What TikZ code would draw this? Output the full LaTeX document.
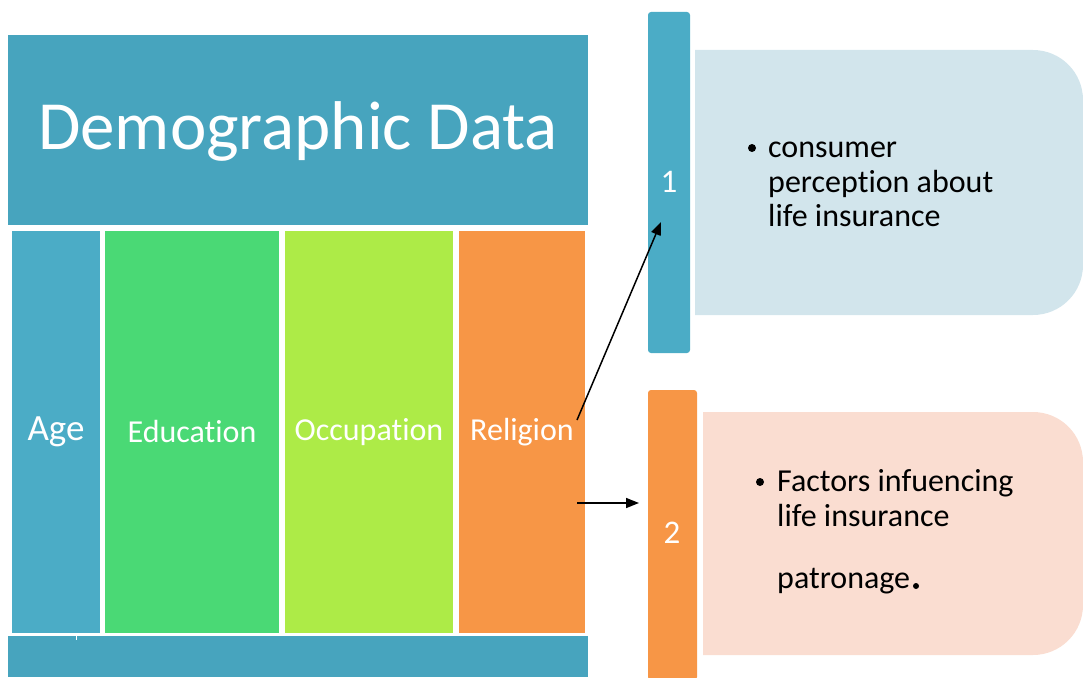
\documentclass[tikz,border=0pt]{standalone}
\usepackage{fontspec}
\setmainfont{Carlito}[RawFeature={-liga}]
\usetikzlibrary{arrows.meta}
\definecolor{dgHead}{RGB}{71,164,190}
\definecolor{dgAge}{RGB}{75,172,198}
\definecolor{dgEdu}{RGB}{74,217,117}
\definecolor{dgOcc}{RGB}{173,235,71}
\definecolor{dgRel}{RGB}{247,150,70}
\definecolor{dgLightBlue}{RGB}{210,229,236}
\definecolor{dgLightPeach}{RGB}{250,221,209}
\tikzset{
  panel/.style={inner sep=0pt, outer sep=0pt, anchor=north west},
  collabel/.style={text=white, font=\fontsize{32}{36}\selectfont},
  numlabel/.style={text=white, font=\fontsize{33}{36}\selectfont},
  bodyline/.style={anchor=base west, inner sep=0pt, font=\fontsize{32}{35}\selectfont},
  bulletdot/.style={circle, fill=black, inner sep=0pt, minimum size=8pt},
  link/.style={line width=1.5pt, -{Triangle[length=13pt,width=10pt]}},
}
\begin{document}
\begin{tikzpicture}[x=1pt,y=-1pt]
\useasboundingbox (0,0) rectangle (1083,677);

% header and footer bands
\node[panel, fill=dgHead, minimum width=580pt, minimum height=190pt] (head) at (8,35) {};
\node[text=white, font=\fontsize{69}{80}\selectfont] (title) at (298,131) {Demographic Data};
\node[panel, fill=dgHead, minimum width=580pt, minimum height=41pt] (foot) at (8,636) {};
\draw[white, line width=0.6pt] (76,636) -- (76,640);

% category columns
\node[panel, fill=dgAge, minimum width=88pt,  minimum height=402pt] (agecol) at (12,231) {};
\node[panel, fill=dgEdu, minimum width=174pt, minimum height=402pt] (educol) at (105,231) {};
\node[panel, fill=dgOcc, minimum width=168pt, minimum height=402pt] (occcol) at (285,231) {};
\node[panel, fill=dgRel, minimum width=126pt, minimum height=402pt] (relcol) at (459,231) {};
\node[collabel, font=\fontsize{37}{40}\selectfont] (age) at (56,432) {Age};
\node[collabel] (edu) at (192,432) {Education};
\node[collabel] (occ) at (369,432) {Occupation};
\node[collabel] (rel) at (522,432) {Religion};

% numbered bars
\node[panel, fill=dgAge, rounded corners=3pt, minimum width=42pt, minimum height=341pt] (bar1) at (648,12) {};
\node[panel, fill=dgRel, rounded corners=3pt, minimum width=49pt, minimum height=290pt] (bar2) at (648,390) {};
\node[numlabel] (n1) at (669,182) {1};
\node[numlabel] (n2) at (672,533) {2};

% detail panels, rounded on the right
\fill[dgLightBlue] (695,50) [rounded corners=50pt] -- (1083,50) -- (1083,315) [sharp corners] -- (695,315) -- cycle;
\fill[dgLightPeach] (703,412) [rounded corners=50pt] -- (1083,412) -- (1083,655) [sharp corners] -- (703,655) -- cycle;

% first panel text
\node[bulletdot] (d1) at (752,148) {};
\node[bodyline] (t11) at (768,157) {consumer};
\node[bodyline] (t12) at (768,192) {perception about};
\node[bodyline] (t13) at (768,226) {life insurance};

% second panel text
\node[bulletdot] (d2) at (760,482) {};
\node[bodyline] (t21) at (777,491) {Factors infuencing};
\node[bodyline] (t22) at (777,526) {life insurance};
\node[bodyline] (t23) at (777,588) {patronage};
\node[bulletdot, minimum size=6pt] (d3) at (916,586) {};

% connectors
\coordinate (s1) at (577,420);
\coordinate (e1) at (661,222);
\coordinate (s2) at (577,503);
\coordinate (e2) at (639,503);
\draw[link] (s1) -- (e1);
\draw[link] (s2) -- (e2);
\end{tikzpicture}
\end{document}
